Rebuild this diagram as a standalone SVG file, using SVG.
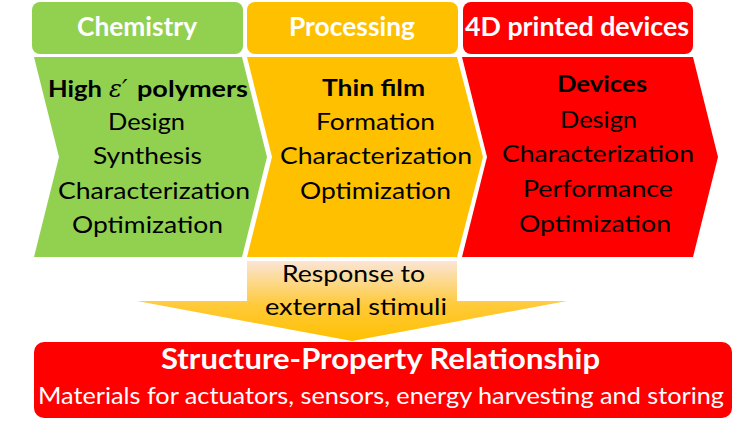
<svg xmlns="http://www.w3.org/2000/svg" width="743" height="427" viewBox="0 0 743 427">
<defs>
<style>
.hdr{font-family:Lato,"Open Sans","Liberation Sans",sans-serif;font-weight:bold;font-size:26px;fill:#fff;}
.bt{font-family:Lato,"Open Sans","Liberation Sans",sans-serif;font-size:22.5px;fill:#000;}
.bb{font-family:Lato,"Open Sans","Liberation Sans",sans-serif;font-size:23px;font-weight:bold;fill:#000;}
.eps{font-family:"DejaVu Serif","Liberation Serif",serif;font-style:italic;font-size:24px;fill:#000;}
.wt{font-family:Lato,"Open Sans","Liberation Sans",sans-serif;fill:#fff;}
.chev{stroke:none;}
</style>
<linearGradient id="arrowGrad" gradientUnits="userSpaceOnUse" x1="0" y1="261" x2="0" y2="341">
<stop offset="0" stop-color="#FBE5D6"/>
<stop offset="0.55" stop-color="#FFCA3A"/>
<stop offset="1" stop-color="#FFC000"/>
</linearGradient>
</defs>
<rect width="743" height="427" fill="#fff"/>

<g id="header-chemistry">
<rect x="32" y="2" width="211" height="52" rx="8" fill="#92D050"/>
<text class="hdr" x="77" y="36" textLength="120" lengthAdjust="spacingAndGlyphs">Chemistry</text>
</g>
<g id="header-processing">
<rect x="247" y="2" width="211" height="52" rx="8" fill="#FFC000"/>
<text class="hdr" x="289" y="36" textLength="126" lengthAdjust="spacingAndGlyphs">Processing</text>
</g>
<g id="header-devices">
<rect x="463" y="2" width="230" height="52" rx="8" fill="#FF0000"/>
<text class="hdr" x="465" y="36" textLength="224" lengthAdjust="spacingAndGlyphs">4D printed devices</text>
</g>

<g id="chemistry">
<polygon class="chev" points="34,57 242,57 267,157 242,257 34,257 59,157" fill="#92D050"/>
<text class="bb" x="48" y="97" textLength="54" lengthAdjust="spacingAndGlyphs">High</text>
<text class="eps" x="109" y="97">ε′</text>
<text class="bb" x="137" y="97" textLength="111" lengthAdjust="spacingAndGlyphs">polymers</text>
<text class="bt" x="108" y="130" textLength="77" lengthAdjust="spacingAndGlyphs">Design</text>
<text class="bt" x="93" y="164" textLength="109" lengthAdjust="spacingAndGlyphs">Synthesis</text>
<text class="bt" x="58" y="199" textLength="192" lengthAdjust="spacingAndGlyphs">Characterization</text>
<text class="bt" x="72" y="233" textLength="151" lengthAdjust="spacingAndGlyphs">Optimization</text>
</g>

<g id="processing">
<polygon class="chev" points="247,57 457,57 483,157 457,257 247,257 272,157" fill="#FFC000"/>
<text class="bb" x="322" y="96" textLength="103" lengthAdjust="spacingAndGlyphs">Thin film</text>
<text class="bt" x="316" y="130" textLength="119" lengthAdjust="spacingAndGlyphs">Formation</text>
<text class="bt" x="280" y="164" textLength="192" lengthAdjust="spacingAndGlyphs">Characterization</text>
<text class="bt" x="300" y="199" textLength="151" lengthAdjust="spacingAndGlyphs">Optimization</text>
</g>

<g id="devices">
<polygon class="chev" points="462,57 693,57 718,157 693,257 462,257 487,157" fill="#FF0000"/>
<text class="bb" x="557" y="92" textLength="90" lengthAdjust="spacingAndGlyphs">Devices</text>
<text class="bt" x="560" y="128" textLength="77" lengthAdjust="spacingAndGlyphs">Design</text>
<text class="bt" x="502" y="162" textLength="192" lengthAdjust="spacingAndGlyphs">Characterization</text>
<text class="bt" x="523" y="197" textLength="150" lengthAdjust="spacingAndGlyphs">Performance</text>
<text class="bt" x="519" y="232" textLength="152" lengthAdjust="spacingAndGlyphs">Optimization</text>
</g>

<g id="connectors">
<path d="M247,261 H457 V301 H567 L352,341 L137,301 H247 Z" fill="url(#arrowGrad)"/>
<text class="bt" x="282" y="282" textLength="143" lengthAdjust="spacingAndGlyphs">Response to</text>
<text class="bt" x="265" y="315" textLength="182" lengthAdjust="spacingAndGlyphs">external stimuli</text>
</g>

<g id="structure-property">
<rect x="34" y="342" width="698" height="76" rx="10" fill="#FF0000"/>
<text class="wt" x="161" y="369" font-size="28" font-weight="bold" textLength="439" lengthAdjust="spacingAndGlyphs">Structure-Property Relationship</text>
<text class="wt" x="38" y="404" font-size="23" textLength="686" lengthAdjust="spacingAndGlyphs">Materials for actuators, sensors, energy harvesting and storing</text>
</g>
</svg>
